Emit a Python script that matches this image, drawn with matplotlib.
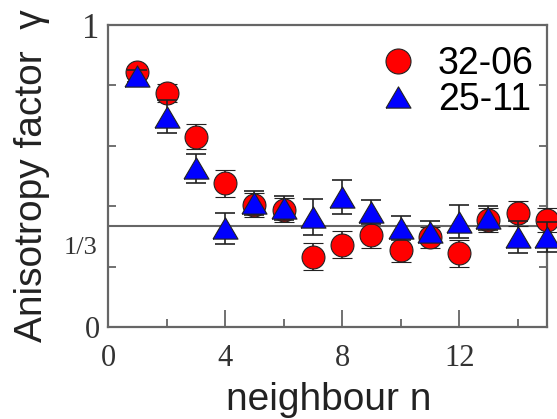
import matplotlib
matplotlib.use("Agg")
import matplotlib.pyplot as plt
from matplotlib.lines import Line2D

n = [1, 2, 3, 4, 5, 6, 7, 8, 9, 10, 11, 12, 13, 14, 15]
g_3206 = [0.845, 0.776, 0.630, 0.476, 0.404, 0.387, 0.233, 0.272, 0.305, 0.255, 0.297, 0.244, 0.354, 0.376, 0.354]
e_3206 = [0.02, 0.03, 0.041, 0.045, 0.04, 0.04, 0.045, 0.045, 0.045, 0.04, 0.035, 0.045, 0.04, 0.04, 0.04]
g_2511 = [0.83, 0.696, 0.525, 0.327, 0.41, 0.393, 0.365, 0.431, 0.382, 0.327, 0.316, 0.349, 0.36, 0.299, 0.297]
e_2511 = [0.02, 0.055, 0.047, 0.052, 0.04, 0.04, 0.06, 0.056, 0.04, 0.04, 0.035, 0.055, 0.04, 0.053, 0.05]
labels = ["32-06", "25-11"]

W, H = 557, 419
fig = plt.figure(figsize=(W / 100, H / 100), dpi=100)
ax = fig.add_axes([108 / W, 1 - 327 / H, (547 - 108) / W, (327 - 25) / H])

gray = "#666666"
ink = "#222222"
tri = [(-1, -0.85), (1, -0.85), (0, 0.85), (-1, -0.85)]

ax.axhline(1 / 3, color=gray, lw=1.5, zorder=1)

ax.errorbar(n, g_3206, yerr=e_3206, fmt="o", ms=16.5, mfc="#ff0000", mec=ink, mew=0.8,
            ecolor=ink, elinewidth=1.2, capsize=7, capthick=1.2, clip_on=False, zorder=3)
ax.errorbar(n, g_2511, yerr=e_2511, fmt="none", ecolor=ink, elinewidth=1.2, capsize=7,
            capthick=1.2, clip_on=False, zorder=4)
ax.plot(n, g_2511, ls="none", marker=tri, ms=18, mfc="#0000ff", mec=ink, mew=0.8,
        clip_on=False, zorder=5)

ax.set_xlim(0, 15)
ax.set_ylim(0, 1)

for s in ax.spines.values():
    s.set_color(gray)
    s.set_linewidth(1.6)

serif = ["Liberation Serif", "DejaVu Serif"]
sans = ["Liberation Sans", "DejaVu Sans"]

ax.set_xticks([0, 4, 8, 12])
ax.set_xticklabels(["0", "4", "8", "12"], fontfamily=serif, fontsize=22, color="#333333")
ax.set_xticks([2, 6, 10, 14], minor=True)
ax.tick_params(axis="x", which="major", direction="in", length=12, width=1.3, color=gray, top=False, pad=12)
ax.tick_params(axis="x", which="minor", direction="in", length=6, width=1.3, color=gray, top=False)

ax.set_yticks([0, 0.2, 0.4, 0.6, 0.8, 1.0])
ax.set_yticklabels(["0", "", "", "", "", "1"], fontfamily=serif, fontsize=22, color="#333333")
ytl = ax.get_yticklabels()
ytl[-1].set_fontsize(25)
ax.tick_params(axis="y", which="major", direction="in", length=6, width=1.3, color=gray,
               left=True, right=True, pad=6)

ax.text(-0.023, 0.26, "1/3", transform=ax.get_yaxis_transform(), ha="right", va="center",
        fontfamily=serif, fontsize=19, color="#333333")

fig.text(329 / W, 1 - 410 / H, "neighbour n", fontfamily=sans, fontsize=28, color=ink,
         ha="center", va="baseline")
fig.text(32 / W, 1 - 176 / H, "Anisotropy factor  \u03b3", fontfamily=sans, fontsize=28, color=ink,
         ha="center", va="center", rotation=90)

handles = [
    Line2D([], [], ls="none", marker="o", ms=18, mfc="#ff0000", mec=ink, mew=0.8),
    Line2D([], [], ls="none", marker=tri, ms=18, mfc="#0000ff", mec=ink, mew=0.8),
]
ax.legend(handles, labels, loc="center left", bbox_to_anchor=(379 / W, 1 - 82 / H),
          bbox_transform=fig.transFigure, frameon=False, prop={"family": sans, "size": 27},
          handletextpad=0.57, labelspacing=0.0, borderaxespad=0, borderpad=0, handlelength=1.0)

fig.savefig("out.png", dpi=100)
